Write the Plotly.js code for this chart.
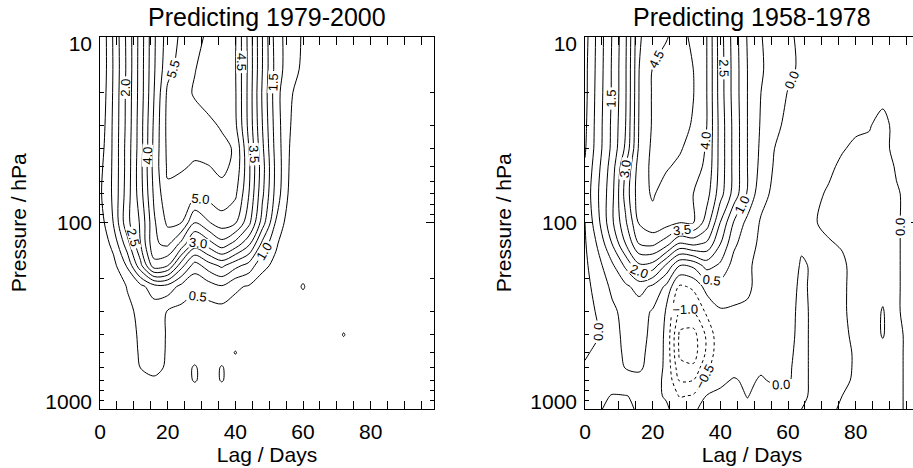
<!DOCTYPE html>
<html><head><meta charset="utf-8">
<script src="https://cdn.plot.ly/plotly-3.0.1.min.js"></script>
<style>html,body{margin:0;padding:0;overflow:hidden;background:#fff}#chart{width:920px;height:468px}</style>
</head><body><div id="chart"></div>
<script>
// Lag (days) columns and pressure (hPa) rows of the gridded fields
const lags = [0,4,8,12,16,20,24,28,32,36,40,44,48,52,56,60,64,68,72,76,80,84,88,92,96,100];
const pressures = [10,15,20,30,40,50,70,100,130,170,220,300,400,500,600,700,850,1000];

// Panel 1: Predicting 1979-2000 (rows follow pressures, columns follow lags)
const skillLate = [
 [0.0,1.07,2.12,3.23,4.43,5.24,5.58,5.65,5.42,5.2,5.04,3.83,2.5,1.25,0.75,0.45,0.3,0.2,0.15,0.1,0.1,0.1,0.1,0.1,0.1,0.1],
 [0.0,1.05,2.1,3.25,4.45,5.35,5.7,5.52,5.3,5.15,5.03,3.85,2.5,1.3,0.7,0.42,0.3,0.2,0.15,0.1,0.1,0.1,0.1,0.1,0.1,0.1],
 [0.05,1.07,2.14,3.25,4.5,5.6,5.68,5.45,5.3,5.2,5.05,3.83,2.43,1.2,0.55,0.35,0.25,0.15,0.1,0.1,0.1,0.1,0.1,0.1,0.1,0.1],
 [0.15,1.1,2.15,3.3,4.6,5.65,5.72,5.7,5.6,5.45,5.1,3.85,2.5,1.25,0.52,0.3,0.2,0.15,0.1,0.1,0.1,0.1,0.1,0.1,0.1,0.1],
 [0.25,1.1,2.2,3.3,4.65,5.62,5.72,5.6,5.7,5.62,5.45,4.0,2.6,1.3,0.5,0.3,0.2,0.15,0.1,0.1,0.1,0.1,0.1,0.1,0.1,0.1],
 [0.35,1.1,2.2,3.35,4.7,5.58,5.55,5.45,5.48,5.6,5.4,4.1,2.7,1.35,0.47,0.28,0.2,0.15,0.1,0.15,0.1,0.1,0.1,0.1,0.1,0.1],
 [0.42,1.1,2.25,3.3,4.6,5.4,5.3,5.15,5.2,5.35,5.1,4.0,2.6,1.3,0.4,0.25,0.2,0.15,0.15,0.2,0.15,0.1,0.1,0.1,0.1,0.1],
 [0.25,1.03,2.35,3.07,4.43,5.1,5.0,4.0,4.45,4.75,4.55,3.65,2.25,0.95,0.2,0.15,0.15,0.1,0.15,0.2,0.15,0.1,0.1,0.1,0.1,0.1],
 [0.15,0.65,1.77,3.0,4.43,4.6,3.85,2.8,3.25,3.8,3.3,2.6,1.35,0.55,0.2,0.15,0.12,0.1,0.15,0.15,0.1,0.1,0.1,0.1,0.1,0.1],
 [0.1,0.35,1.05,2.35,3.8,3.5,2.2,1.25,1.75,2.1,1.65,1.3,0.6,0.4,0.2,0.15,0.1,0.1,0.1,0.1,0.1,0.1,0.1,0.1,0.1,0.1],
 [0.05,0.2,0.52,0.85,1.3,1.3,0.85,0.6,0.75,0.95,0.58,0.45,0.3,0.2,0.15,0.56,0.1,0.1,0.1,0.1,0.1,0.1,0.1,0.1,0.1,0.1],
 [0.05,0.1,0.4,0.6,0.7,0.47,0.35,0.3,0.3,0.3,0.3,0.25,0.2,0.15,0.1,0.1,0.1,0.1,0.1,0.1,0.1,0.1,0.1,0.1,0.1,0.1],
 [0.05,0.1,0.3,0.58,0.65,0.47,0.3,0.25,0.25,0.25,0.25,0.2,0.2,0.15,0.1,0.1,0.1,0.1,0.54,0.1,0.1,0.1,0.1,0.1,0.1,0.1],
 [0.05,0.1,0.25,0.56,0.62,0.47,0.3,0.25,0.2,0.2,0.53,0.2,0.15,0.15,0.1,0.1,0.1,0.1,0.1,0.1,0.1,0.1,0.1,0.1,0.1,0.1],
 [0.05,0.1,0.2,0.51,0.6,0.45,0.25,0.56,0.2,0.55,0.15,0.15,0.15,0.1,0.1,0.1,0.1,0.1,0.1,0.1,0.1,0.1,0.1,0.1,0.1,0.1],
 [0.05,0.05,0.15,0.3,0.45,0.35,0.2,0.56,0.2,0.55,0.15,0.1,0.1,0.1,0.1,0.1,0.1,0.1,0.1,0.1,0.1,0.1,0.1,0.1,0.1,0.1],
 [0.05,0.05,0.1,0.15,0.2,0.15,0.1,0.1,0.1,0.1,0.1,0.1,0.1,0.1,0.1,0.1,0.1,0.1,0.1,0.1,0.1,0.1,0.1,0.1,0.1,0.1],
 [0.05,0.05,0.05,0.05,0.05,0.05,0.05,0.05,0.05,0.05,0.05,0.05,0.05,0.05,0.05,0.05,0.05,0.05,0.05,0.05,0.05,0.05,0.05,0.05,0.05,0.05]
];

// Panel 2: Predicting 1958-1978
const skillEarly = [
 [-0.2,0.7,1.52,2.42,3.95,4.25,4.47,4.65,4.4,4.0,2.72,1.77,0.96,0.52,0.3,0.08,-0.1,-0.15,-0.2,-0.2,-0.2,-0.15,-0.1,-0.15,-0.2,-0.2],
 [-0.15,0.72,1.55,2.45,4.0,4.52,4.65,4.7,4.5,4.0,2.75,1.8,1.0,0.55,0.3,0.1,-0.08,-0.12,-0.15,-0.15,-0.15,-0.12,-0.08,-0.12,-0.15,-0.15],
 [-0.15,0.75,1.55,2.45,4.02,4.55,4.68,4.72,4.52,4.0,2.75,1.8,1.0,0.5,0.25,-0.02,-0.1,-0.12,-0.15,-0.15,-0.12,-0.08,-0.05,-0.1,-0.15,-0.15],
 [-0.1,0.78,1.6,2.5,4.05,4.55,4.7,4.68,4.45,4.0,2.8,1.85,1.0,0.45,0.1,-0.1,-0.12,-0.15,-0.12,-0.1,-0.05,-0.01,0.05,-0.05,-0.1,-0.1],
 [-0.05,0.8,1.62,2.6,4.1,4.6,4.65,4.55,4.3,3.95,2.8,1.85,1.0,0.4,0.0,-0.1,-0.12,-0.1,-0.06,-0.02,0.05,0.03,0.05,-0.05,-0.1,-0.1],
 [0.05,0.9,1.75,3.0,4.25,4.6,4.55,4.4,4.2,3.9,2.8,1.85,1.0,0.35,-0.05,-0.12,-0.12,-0.08,-0.05,0.05,0.1,0.12,0.1,-0.02,-0.05,-0.05],
 [0.15,1.0,1.85,3.2,4.3,4.55,4.3,4.1,4.0,3.7,2.7,1.8,0.95,0.15,-0.1,-0.12,-0.1,-0.05,0.03,0.1,0.15,0.15,0.12,0.02,-0.05,-0.05],
 [0.0,0.9,1.9,2.92,4.05,4.35,4.2,4.0,4.02,3.25,1.98,0.95,0.35,-0.05,-0.15,-0.15,-0.1,-0.01,0.05,0.1,0.12,0.12,0.1,0.02,-0.05,-0.05],
 [-0.05,0.6,1.5,2.5,3.5,3.6,3.2,2.4,2.6,2.4,1.5,0.6,0.2,-0.1,-0.15,-0.15,-0.05,-0.02,-0.02,0.02,0.1,0.15,0.15,0.02,-0.05,-0.05],
 [-0.1,0.35,0.9,1.6,2.4,2.3,1.4,0.5,0.6,1.2,0.9,0.3,0.05,-0.1,-0.2,-0.2,0.04,-0.05,-0.05,-0.04,0.08,0.15,0.2,0.02,-0.05,-0.05],
 [-0.15,0.2,0.6,0.9,1.2,0.9,0.4,-0.6,-0.4,0.2,0.3,0.15,0.05,-0.1,-0.15,-0.12,0.06,-0.08,-0.08,-0.04,0.08,0.15,0.3,0.02,-0.05,-0.05],
 [-0.15,0.05,0.4,0.65,0.7,0.45,-0.05,-1.1,-1.0,-0.4,-0.05,-0.05,-0.05,-0.1,-0.12,-0.1,0.08,-0.08,-0.08,-0.04,0.08,0.15,0.55,0.02,-0.05,-0.05],
 [-0.1,-0.02,0.35,0.6,0.65,0.4,-0.1,-1.6,-1.7,-0.9,-0.1,-0.1,-0.1,-0.05,-0.1,-0.08,0.08,-0.08,-0.08,-0.05,0.05,0.15,0.55,0.05,-0.05,-0.05],
 [-0.05,0.1,0.3,0.58,0.62,0.35,-0.1,-1.6,-1.75,-0.9,-0.1,-0.1,-0.1,-0.03,-0.08,-0.05,0.08,-0.08,-0.08,-0.05,0.02,0.15,0.3,0.05,-0.05,-0.05],
 [0.05,0.12,0.25,0.52,0.58,0.3,-0.1,-1.35,-1.4,-0.6,-0.1,-0.08,-0.05,-0.03,-0.05,-0.03,0.08,-0.08,-0.08,-0.05,0.02,0.12,0.2,0.05,-0.05,-0.05],
 [0.05,0.1,0.1,0.3,0.35,0.15,-0.08,-1.05,-1.0,-0.3,-0.05,0.02,-0.04,0.02,-0.03,-0.02,0.08,-0.08,-0.08,-0.03,0.02,0.1,0.15,0.05,-0.05,-0.05],
 [0.05,0.05,-0.01,-0.01,0.05,0.05,-0.02,-0.55,-0.45,0.02,0.05,0.08,-0.01,0.08,0.08,0.05,0.05,-0.06,-0.05,0.0,0.08,0.1,0.12,0.05,-0.05,-0.05],
 [0.05,0.02,-0.05,-0.05,0.03,0.05,0.03,-0.1,-0.05,0.1,0.08,0.05,0.05,0.1,0.1,0.08,0.0,-0.03,-0.03,0.02,0.1,0.1,0.1,0.05,-0.05,-0.05]
];

const panelTitles = ['Predicting 1979-2000', 'Predicting 1958-1978'];
const xTickVals = [0,20,40,60,80];
const yTickVals = [10,100,1000];
const yTickText = ['10','100','1000'];
const yLabelPlaces = [10.9, 100, 916]; // where the labels sit (pulled inside the frame)
const yMinorVals = [20,30,40,50,60,70,80,90,200,300,400,500,600,700,800,900];

const FONT = 'Liberation Sans, Arial, Helvetica, sans-serif';
const log10 = v => Math.log10(v);
const logP = pressures.map(log10);
const W = 920, H = 468;

function contourTrace(z, xa, ya, start, end, dash) {
  return {
    type: 'contour', x: lags, y: logP, z: z, xaxis: xa, yaxis: ya,
    autocontour: false,
    contours: {coloring: 'none', start: start, end: end, size: 0.5,
      showlabels: true, labelformat: '.1f',
      labelfont: {family: FONT, size: 13, color: '#000'}},
    line: {color: '#000', width: 1, dash: dash, smoothing: 0.9},
    showscale: false, hoverinfo: 'skip'
  };
}

const traces = [
  contourTrace(skillLate, 'x', 'y', 0.5, 5.5, 'solid'),
  contourTrace(skillEarly, 'x2', 'y2', 0.0, 4.5, 'solid'),
  contourTrace(skillEarly, 'x2', 'y2', -1.5, -0.5, 'dot'),
  {type: 'scatter', x: [], y: [], xaxis: 'x', yaxis: 'y3', hoverinfo: 'skip'},
  {type: 'scatter', x: [], y: [], xaxis: 'x2', yaxis: 'y4', hoverinfo: 'skip'}
];

const tickFont = {family: FONT, size: 21, color: '#000'};
function xAxis(domain, anchor) {
  return {
    domain: domain, anchor: anchor, range: [0, 98.7],
    tickmode: 'array', tickvals: xTickVals,
    ticks: 'inside', ticklen: 8, tickwidth: 1, tickcolor: '#000',
    minor: {tickmode: 'linear', tick0: 0, dtick: 5, ticks: 'inside', ticklen: 4, tickcolor: '#000'},
    showline: true, linecolor: '#000', linewidth: 1, mirror: 'allticks',
    showgrid: false, zeroline: false,
    tickfont: tickFont, ticklabelstandoff: 4,
    title: {text: 'Lag / Days', font: tickFont, standoff: 2}
  };
}
function yAxis(anchor) {
  return {
    domain: [1 - 409/H, 1 - 36.5/H], anchor: anchor, range: [3, 1],
    tickmode: 'array', tickvals: yTickVals.map(log10),
    ticks: 'inside', ticklen: 8, tickwidth: 1, tickcolor: '#000',
    minor: {tickmode: 'array', tickvals: yMinorVals.map(log10), ticks: 'inside', ticklen: 4, tickcolor: '#000'},
    showline: true, linecolor: '#000', linewidth: 1, mirror: 'allticks',
    showgrid: false, zeroline: false, showticklabels: false
  };
}
function yLabelAxis(overlay, anchor) {
  return {
    overlaying: overlay, anchor: anchor, side: 'left', range: [3, 1],
    tickmode: 'array', tickvals: yLabelPlaces.map(log10), ticktext: yTickText,
    ticks: '', showline: false, showgrid: false, zeroline: false,
    tickfont: tickFont, ticklabelstandoff: 7,
    title: {text: 'Pressure / hPa', font: tickFont, standoff: 12}
  };
}

const d1 = [100/W, 434/W], d2 = [585/W, 919/W];
const titleFont = {family: FONT, size: 25, color: '#000'};
const layout = {
  width: W, height: H, margin: {l: 0, r: 0, t: 0, b: 0},
  paper_bgcolor: '#fff', plot_bgcolor: '#fff', showlegend: false,
  font: {family: FONT, color: '#000'},
  xaxis: xAxis(d1, 'y'), yaxis: yAxis('x'),
  xaxis2: xAxis(d2, 'y2'), yaxis2: yAxis('x2'),
  yaxis3: yLabelAxis('y', 'x'), yaxis4: yLabelAxis('y2', 'x2'),
  annotations: panelTitles.map((t, i) => ({
    text: t, xref: 'paper', yref: 'paper', x: ([d1, d2][i][0] + [d1, d2][i][1]) / 2, y: 1 - 17/H,
    xanchor: 'center', yanchor: 'middle', showarrow: false, font: titleFont
  }))
};
Plotly.newPlot('chart', traces, layout, {staticPlot: true, displayModeBar: false});
</script></body></html>
